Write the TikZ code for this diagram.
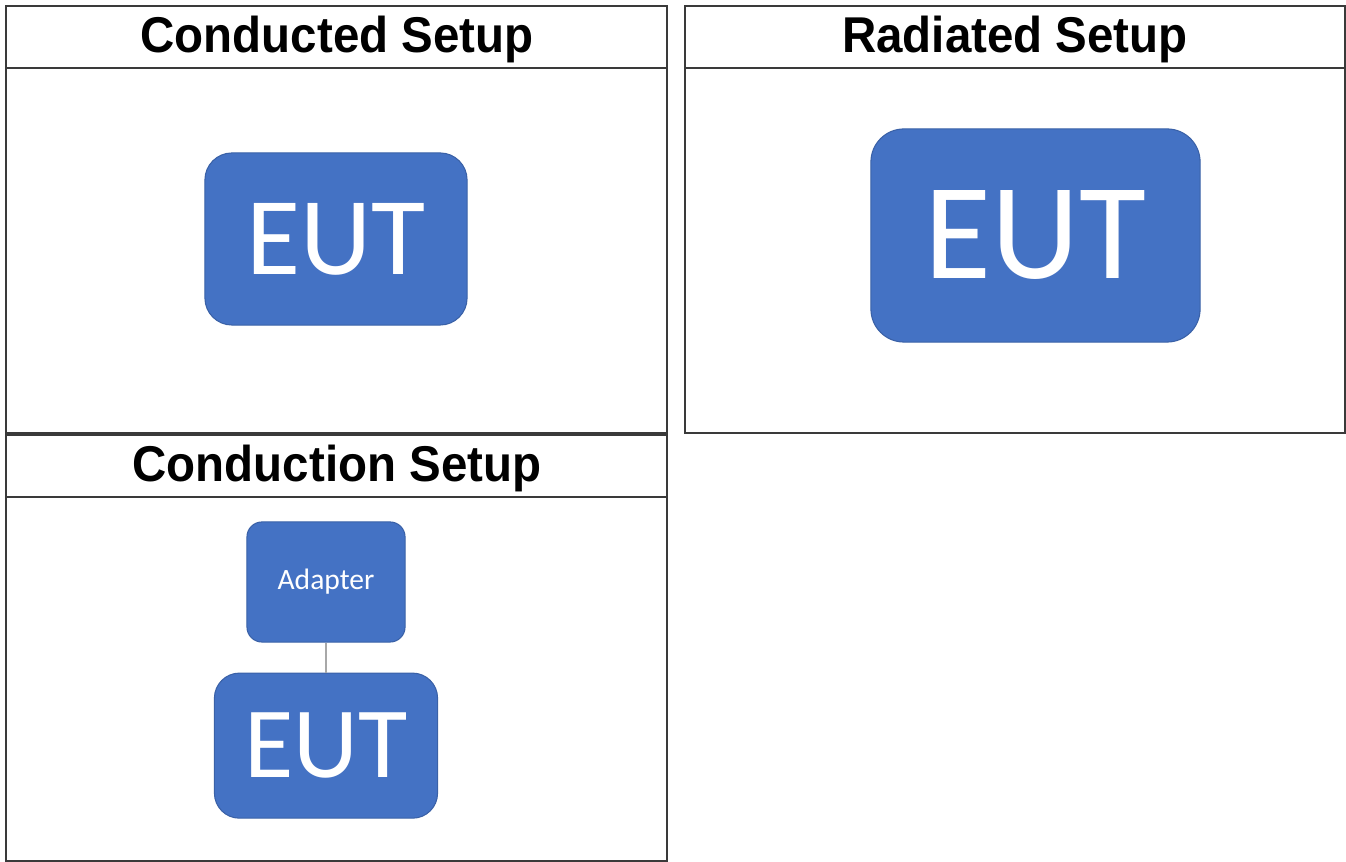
\documentclass[tikz,border=0pt]{standalone}
\usepackage{fontspec}
\setmainfont{Liberation Sans}
\newfontfamily\calfont{Carlito}
\usetikzlibrary{positioning}
\definecolor{eutblue}{HTML}{4472C4}
\definecolor{framegray}{HTML}{3A3A3A}
\definecolor{linkgray}{HTML}{A8A8A8}

\begin{document}
\begin{tikzpicture}[x=0.01cm, y=-0.01cm,
    panel/.style={draw=framegray, line width=0.6pt},
    headtxt/.style={font=\fontsize{13.5}{16}\selectfont\bfseries, yscale=1.06},
    eutbox/.style={fill=eutblue, draw=eutblue!85!black, line width=0.3pt,
      text=white, inner sep=0pt},
    linkline/.style={draw=linkgray, line width=0.45pt}]
    \useasboundingbox (0,0) rectangle (1346,862);

    % Panel frames with their header rows
    \draw[panel] (6,6) rectangle (667,433);
    \draw[panel] (6,68) -- (667,68);
    \draw[panel] (685,6) rectangle (1345,433);
    \draw[panel] (685,68) -- (1345,68);
    \draw[panel] (6,435) rectangle (667,861);
    \draw[panel] (6,497) -- (667,497);

    % Header texts
    \node[headtxt] (condhead) at (337,40) {Conducted Setup};
    \node[headtxt] (radhead) at (1015,40) {Radiated Setup};
    \node[headtxt] (conhead) at (337,468) {Conduction Setup};

    % Conducted setup
    \node[eutbox, rounded corners=0.27cm, minimum width=2.62cm, minimum height=1.72cm,
      font=\calfont\fontsize{31.5}{36}\selectfont] (eutcond) at (336,239) {EUT};

    % Radiated setup
    \node[eutbox, rounded corners=0.33cm, minimum width=3.29cm, minimum height=2.13cm,
      font=\calfont\fontsize{39}{44}\selectfont] (eutrad) at (1035.5,235.5) {EUT};

    % Conduction setup: adapter on top of the EUT
    \node[eutbox, rounded corners=0.15cm, minimum width=1.58cm, minimum height=1.20cm,
      font=\calfont\fontsize{8.4}{10}\selectfont] (adapter) at (326,582) {Adapter};
    \node[eutbox, rounded corners=0.25cm, minimum width=2.23cm, minimum height=1.45cm,
      font=\calfont\fontsize{28.7}{33}\selectfont, below=0.3cm of adapter] (eutcon) {EUT};
    \draw[linkline] (adapter) -- (eutcon);
\end{tikzpicture}
\end{document}
